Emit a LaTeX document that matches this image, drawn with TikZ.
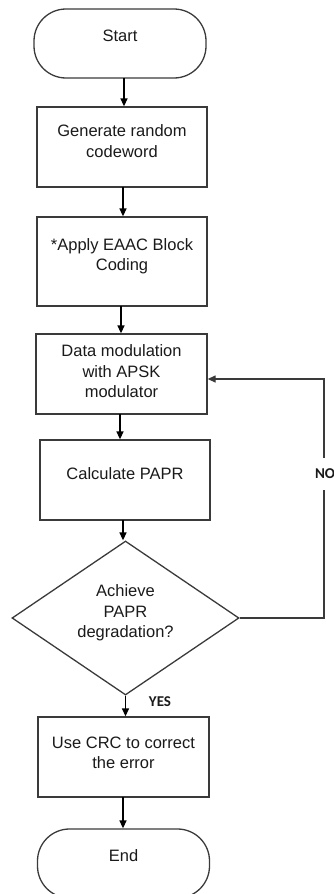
\documentclass[tikz,border=0pt]{standalone}
\usepackage{fontspec}
\setmainfont{Liberation Sans}
\newfontfamily\labelfont{Carlito}
\usetikzlibrary{arrows.meta,shapes.geometric}

\definecolor{edge}{HTML}{3A3A3A}
\definecolor{ink}{HTML}{1A1A1A}

\tikzset{
  stepbox/.style={draw=edge, line width=1.3pt, rectangle, inner sep=0pt,
                  minimum width=#1, minimum height=80pt},
  terminal/.style={draw=edge, line width=1.3pt, rectangle, rounded corners=32pt,
                   inner sep=0pt, minimum width=172pt, minimum height=69pt},
  decision/.style={draw=edge, line width=1.3pt, diamond, inner sep=0pt,
                   minimum width=227pt, minimum height=154pt},
  txt/.style={text=ink, font=\fontsize{16.5}{20.5}\selectfont, align=center, inner sep=0pt},
  tag/.style={text=ink, font=\labelfont\bfseries\fontsize{15}{18}\selectfont, fill=white, inner sep=0pt},
  flow/.style={draw=black, line width=1.3pt, -{Triangle[length=8pt,width=7pt]}},
  back/.style={draw=edge, line width=1.3pt, -{Triangle[length=8pt,width=7pt]}}
}

\begin{document}
\begin{tikzpicture}[x=1pt, y=-1pt]
  \useasboundingbox (0,0) rectangle (334,894);

  % shapes
  \node[terminal] (start) at (120,43.5) {};
  \node[stepbox=170pt] (gen) at (122,147) {};
  \node[stepbox=170pt, minimum height=89pt] (enc) at (122,261.5) {};
  \node[stepbox=171pt] (mod) at (121.5,374) {};
  \node[stepbox=170pt] (papr) at (125,480) {};
  \node[decision] (dec) at (125.5,618) {};
  \node[stepbox=171pt] (crc) at (123.5,757) {};
  \node[terminal] (stop) at (123.5,863.5) {};

  % texts
  \node[txt] (tstart) at (120,36) {Start};
  \node[txt] (tgen) at (122,141) {Generate random\\codeword};
  \node[txt] (tenc) at (122,256) {*Apply EAAC Block\\Coding};
  \node[txt] (tmod) at (121.5,371.5) {Data modulation\\with APSK\\modulator};
  \node[txt] (tpapr) at (125,474) {Calculate PAPR};
  \node[txt] (tdec) at (125.5,613) {Achieve\\PAPR\\degradation?};
  \node[txt] (tcrc) at (123.5,753) {Use CRC to correct\\the error};
  \node[txt] (tstop) at (123.5,856) {End};

  % main flow
  \draw[flow] (124,78) coordinate (s1) -- (s1 |- gen.north);
  \draw[flow] (123,187) coordinate (s2) -- (s2 |- enc.north);
  \draw[flow] (121,306) coordinate (s3) -- (s3 |- mod.north);
  \draw[flow] (120,414) coordinate (s4) -- (s4 |- papr.north);
  \draw[flow] (123,520) coordinate (s5) -- (s5 |- dec.north);
  \draw[flow] (dec.south) -- (dec.south |- crc.north);
  \draw[flow] (123,797) coordinate (s7) -- (s7 |- stop.north);

  % loop back when degradation is not reached
  \coordinate (loop) at (324,379);
  \draw[back] (dec.east) -| (loop) -- (mod.east |- loop);

  % branch labels
  \node[tag, minimum width=40pt, minimum height=32pt, text width=30pt] (no) at (330,474) {NO};
  \node[tag, minimum width=59pt, minimum height=25pt] (yes) at (167.5,700) {};
  \node[tag, fill=none] (tyes) at (160,702) {YES};
\end{tikzpicture}
\end{document}
